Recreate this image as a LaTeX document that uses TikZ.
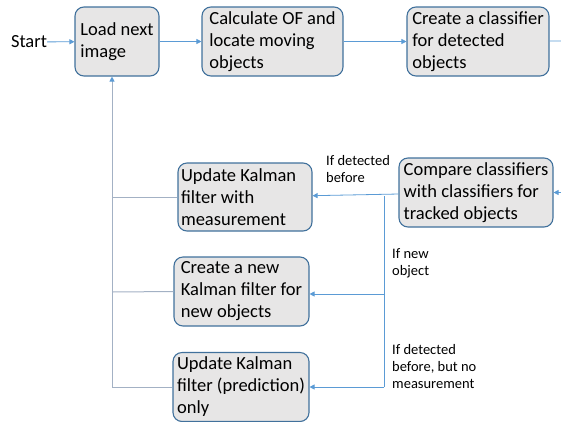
\documentclass[tikz,border=0pt]{standalone}
\usepackage{fontspec}
\setmainfont{Carlito}
\usetikzlibrary{arrows.meta}
\definecolor{boxfill}{HTML}{E7E6E6}
\definecolor{boxdraw}{HTML}{41719C}
\definecolor{arrowblue}{HTML}{5B9BD5}
\definecolor{leftgray}{HTML}{A3B1C4}
\tikzset{
  stepbox/.style={draw=boxdraw, line width=1.1pt, fill=boxfill, rounded corners=9pt,
    align=left, inner xsep=2pt, inner ysep=0pt, font=\fontsize{18.5}{22}\selectfont},
  flow/.style={draw=arrowblue, line width=0.8pt, -{Triangle[length=5pt,width=5pt]}},
  flowline/.style={draw=arrowblue, line width=0.8pt},
  back/.style={draw=leftgray, line width=1pt},
  lbl/.style={align=left, inner sep=0pt, anchor=north west, font=\fontsize{14.5}{17}\selectfont}
}
\begin{document}
\begin{tikzpicture}[x=1pt,y=-1pt]
\useasboundingbox (0,0) rectangle (561,421);
% top row
\node[inner sep=0pt, font=\fontsize{18.5}{22}\selectfont] (start) at (29,42) {Start};
\node[stepbox, minimum width=84pt, minimum height=69pt] (b1) at (117,41.5) {Load next\\image};
\node[stepbox, minimum width=141pt, minimum height=69pt] (b2) at (272.5,41.5) {Calculate OF and\\locate moving\\objects};
\node[stepbox, minimum width=142pt, minimum height=69pt] (b3) at (478,41.5) {Create a classifier\\for detected\\objects};
% middle / lower
\node[stepbox, minimum width=134pt, minimum height=68pt, text width=128pt, align=flush left] (b4) at (245,197) {Update Kalman\\filter with\\measurement};
\node[stepbox, minimum width=154pt, minimum height=69pt] (b5) at (476,192.5) {Compare classifiers\\with classifiers for\\tracked objects};
\node[stepbox, minimum width=135pt, minimum height=69pt] (b6) at (241.5,291.5) {Create a new\\Kalman filter for\\new objects};
\node[stepbox, minimum width=136pt, minimum height=69pt] (b7) at (241,387) {Update Kalman\\filter (prediction)\\only};
% labels
\node[lbl] (l1) at (326,155) {If detected\\before};
\node[lbl] (l2) at (392,248) {If new\\object};
\node[lbl] (l3) at (392,344) {If detected\\before, but no\\measurement};
% coordinates
\coordinate (outR) at (561,41);
\coordinate (inR) at (561,192.5);
\coordinate (br1) at (384,196);
\coordinate (br2) at (384,294);
\coordinate (br3) at (384,387);
\coordinate (lf1) at (112,197);
\coordinate (lf2) at (112,292);
\coordinate (lf3) at (112,387);
% connectors
\draw[flow] (start) -- (b1);
\draw[flow] (b1) -- (b2);
\draw[flow] (b2) -- (b3);
\draw[flowline] (b3) -- (outR);
\draw[flow] (inR) -- (b5);
\draw[flow] (b5) -- (b4);
\draw[flowline] (br1) -- (br3);
\draw[flow] (br2) -- (br2 -| b6.east);
\draw[flow] (br3) -- (br3 -| b7.east);
\draw[back] (b4.west) -- (lf1);
\draw[back] (b6.west) -- (lf2);
\draw[back] (b7.west) -- (lf3);
\draw[back, -{Triangle[length=5pt,width=5pt,color=arrowblue]}] (lf3) -- (lf3 |- b1.south);
\end{tikzpicture}
\end{document}
